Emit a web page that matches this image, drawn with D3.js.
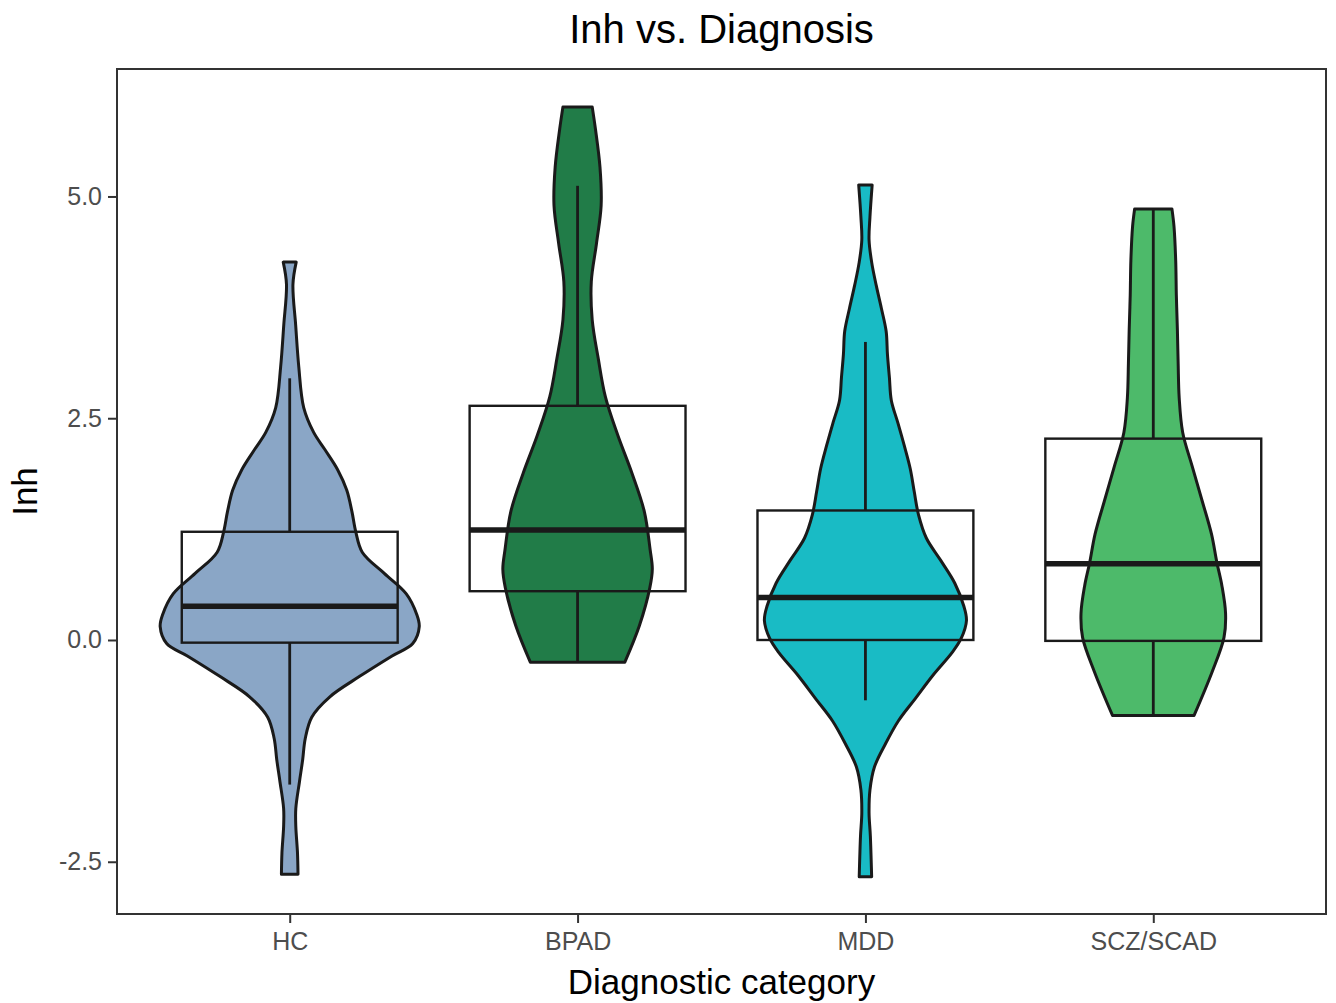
<!DOCTYPE html>
<html>
<head>
<meta charset="utf-8">
<script src="https://cdn.jsdelivr.net/npm/d3@7"></script>
<style>
  body { margin: 0; background: #fff; }
  text { font-family: "Liberation Sans", Arial, Helvetica, sans-serif; }
</style>
</head>
<body>
<svg width="1336" height="1003"></svg>
<script>
const categories = ['HC', 'BPAD', 'MDD', 'SCZ/SCAD'];
const fills = ['#8aa6c6', '#217c48', '#19bbc5', '#4dba6a'];

// box + whisker summary
const whiskerHigh = [2.95, 5.12, 3.36, 4.86];
const boxHigh = [1.22, 2.64, 1.46, 2.27];
const medians = [0.38, 1.24, 0.48, 0.86];
const boxLow = [-0.03, 0.55, 0.0, -0.01];
const whiskerLow = [-1.63, -0.24, -0.68, -0.86];

// violin outlines: [Inh, relative density]
const violinHC = [[4.26, 0.05], [4.01, 0.025], [3.55, 0.046], [3.08, 0.07], [2.62, 0.108],
  [2.34, 0.185], [2.15, 0.27], [1.92, 0.37], [1.69, 0.44], [1.45, 0.48], [1.22, 0.51],
  [0.99, 0.56], [0.75, 0.73], [0.52, 0.9], [0.29, 0.98], [0.15, 1.0], [-0.04, 0.95],
  [-0.18, 0.79], [-0.41, 0.54], [-0.64, 0.31], [-0.87, 0.17], [-1.11, 0.12], [-1.35, 0.1],
  [-1.6, 0.075], [-1.9, 0.047], [-2.1, 0.047], [-2.4, 0.06], [-2.64, 0.064]];
const violinBPAD = [[6.01, 0.113], [5.76, 0.138], [5.33, 0.173], [4.9, 0.182], [4.47, 0.146],
  [4.04, 0.106], [3.61, 0.113], [3.17, 0.16], [2.74, 0.215], [2.31, 0.31], [1.88, 0.42],
  [1.45, 0.515], [1.02, 0.56], [0.8, 0.577], [0.59, 0.558], [0.16, 0.477], [-0.25, 0.365]];
const violinMDD = [[5.13, 0.052], [4.77, 0.035], [4.51, 0.028], [4.26, 0.048], [4.0, 0.083],
  [3.74, 0.123], [3.48, 0.16], [3.22, 0.17], [2.96, 0.185], [2.7, 0.2], [2.45, 0.25],
  [2.19, 0.3], [1.93, 0.346], [1.67, 0.377], [1.41, 0.41], [1.15, 0.47], [0.9, 0.58],
  [0.64, 0.69], [0.38, 0.76], [0.22, 0.78], [0.02, 0.74], [-0.14, 0.67], [-0.4, 0.52],
  [-0.66, 0.385], [-0.91, 0.255], [-1.17, 0.155], [-1.43, 0.07], [-1.69, 0.035],
  [-1.95, 0.028], [-2.21, 0.038], [-2.67, 0.048]];
const violinSCZ = [[4.86, 0.144], [4.66, 0.16], [4.28, 0.173], [3.89, 0.178], [3.5, 0.186],
  [3.12, 0.192], [2.73, 0.2], [2.34, 0.227], [1.96, 0.3], [1.57, 0.377], [1.19, 0.45],
  [0.88, 0.49], [0.61, 0.53], [0.3, 0.558], [0.03, 0.546], [-0.36, 0.454], [-0.85, 0.315]];
const violins = [violinHC, violinBPAD, violinMDD, violinSCZ];

const yTicks = [-2.5, 0, 2.5, 5];

var panel = {left: 117, right: 1326, top: 69, bottom: 914};

var svg = d3.select('svg');

var x = d3.scalePoint()
  .domain(categories)
  .range([panel.left, panel.right])
  .padding(0.6);
var y = d3.scaleLinear()
  .domain([-3.089, 6.437])
  .range([panel.bottom, panel.top]);
// violin half width: 0.45 of a category step at full density
var w = d3.scaleLinear()
  .domain([0, 1])
  .range([0, 0.45 * x.step()]);
var boxHalf = 0.375 * x.step();

var plot = svg.append('g');

categories.forEach(function(cat, i) {
  var cx = x(cat);
  var area = d3.area()
    .y(d => y(d[0]))
    .x0(d => cx - w(d[1]))
    .x1(d => cx + w(d[1]))
    .curve(d3.curveCatmullRom);
  plot.append('path')
    .datum(violins[i])
    .attr('d', area)
    .attr('fill', fills[i])
    .attr('stroke', '#1a1a1a')
    .attr('stroke-width', 3)
    .attr('stroke-linejoin', 'round');

  // whiskers
  plot.append('line')
    .attr('x1', cx).attr('x2', cx)
    .attr('y1', y(boxHigh[i])).attr('y2', y(whiskerHigh[i]))
    .attr('stroke', '#1a1a1a').attr('stroke-width', 2.8);
  plot.append('line')
    .attr('x1', cx).attr('x2', cx)
    .attr('y1', y(boxLow[i])).attr('y2', y(whiskerLow[i]))
    .attr('stroke', '#1a1a1a').attr('stroke-width', 2.8);

  // box (no fill) and median
  plot.append('rect')
    .attr('x', cx - boxHalf)
    .attr('y', y(boxHigh[i]))
    .attr('width', 2 * boxHalf)
    .attr('height', y(boxLow[i]) - y(boxHigh[i]))
    .attr('fill', 'none')
    .attr('stroke', '#1a1a1a')
    .attr('stroke-width', 2.4);
  plot.append('line')
    .attr('x1', cx - boxHalf).attr('x2', cx + boxHalf)
    .attr('y1', y(medians[i])).attr('y2', y(medians[i]))
    .attr('stroke', '#1a1a1a').attr('stroke-width', 5.5);
});

// panel border
svg.append('rect')
  .attr('x', panel.left)
  .attr('y', panel.top)
  .attr('width', panel.right - panel.left)
  .attr('height', panel.bottom - panel.top)
  .attr('fill', 'none')
  .attr('stroke', '#333')
  .attr('stroke-width', 2);

// axes (plain hyphen for negatives, like the original)
var fmt = d => d.toFixed(1);
var yAxis = svg.append('g')
  .attr('transform', 'translate(' + panel.left + ',0)')
  .call(d3.axisLeft(y).tickValues(yTicks).tickFormat(fmt).tickSize(9).tickPadding(6));
var xAxis = svg.append('g')
  .attr('transform', 'translate(0,' + panel.bottom + ')')
  .call(d3.axisBottom(x).tickSize(9).tickPadding(9));

[yAxis, xAxis].forEach(function(a) {
  a.select('.domain').remove();
  a.selectAll('.tick line').attr('stroke', '#333').attr('stroke-width', 2);
  a.selectAll('.tick text')
    .attr('fill', '#4d4d4d')
    .style('font-size', '25px');
});

// titles
svg.append('text')
  .attr('x', (panel.left + panel.right) / 2)
  .attr('y', 43)
  .attr('text-anchor', 'middle')
  .style('font-size', '40px')
  .text('Inh vs. Diagnosis');
svg.append('text')
  .attr('x', (panel.left + panel.right) / 2)
  .attr('y', 994)
  .attr('text-anchor', 'middle')
  .style('font-size', '35px')
  .text('Diagnostic category');
svg.append('text')
  .attr('transform', 'translate(37,' + (panel.top + panel.bottom) / 2 + ') rotate(-90)')
  .attr('text-anchor', 'middle')
  .style('font-size', '35px')
  .text('Inh');
</script>
</body>
</html>
